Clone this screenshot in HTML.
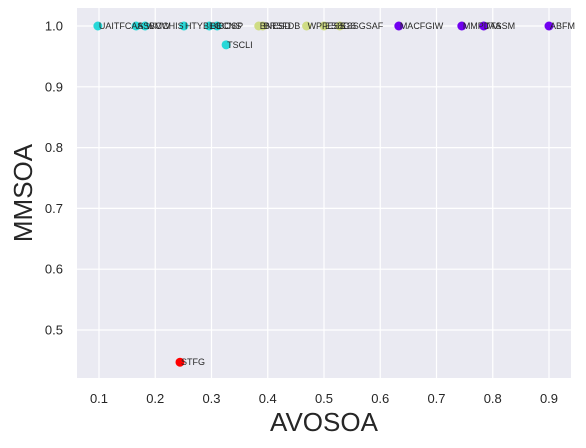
<!DOCTYPE html>
<html><head><meta charset="utf-8"><style>
body{margin:0;background:#fff;font-family:"Liberation Sans","DejaVu Sans",sans-serif}
svg{display:block}
</style></head><body>
<svg id="chart" width="586" height="448"></svg>
<script>
const labels=["UAITFCAS","ASBCW","WMCHIS","HTYBEC","BECNS","BOSP","TSCLI","BNESD","BRSFDB","WPFESS","ESSGS","ESSGSAF","MACFGIW","MMPDTA","TASSM","ABFM","STFG"];
const xVals=[0.098,0.166,0.182,0.251,0.296,0.310,0.326,0.384,0.391,0.469,0.500,0.528,0.633,0.745,0.784,0.900,0.244];
const yVals=[1,1,1,1,1,1,0.969,1,1,1,1,1,1,1,1,1,0.447];
const groups=[0,0,0,0,0,0,0,1,1,1,1,1,2,2,2,2,3];
const xTicks=[0.1,0.2,0.3,0.4,0.5,0.6,0.7,0.8,0.9];
const yTicks=[0.5,0.6,0.7,0.8,0.9,1.0];
const colors=["#27d8d8","#cfdc84","#7000f0","#ff0000"];
const L=77,R=571,T=8,B=378;
const sx=v=>99+(v-0.1)*562.5;
const sy=v=>26+(1-v)*608;
const svg=document.getElementById('chart');
const NS="http://www.w3.org/2000/svg";
function mk(t,a){const e=document.createElementNS(NS,t);for(const k in a)e.setAttribute(k,a[k]);svg.appendChild(e);return e;}
const bg=mk('rect',{x:L,y:T,width:R-L,height:B-T,fill:'#eaeaf2'});


xTicks.forEach(t=>{
 const l=mk('line',{x1:sx(t),x2:sx(t),y1:T,y2:B,stroke:'#fff','stroke-width':1.2});
 
 
 const tx=mk('text',{x:sx(t),y:B+25,'text-anchor':'middle','font-size':13,fill:'#262626'});
 tx.textContent=t.toFixed(1);
 
 
});
yTicks.forEach(t=>{
 const l=mk('line',{x1:L,x2:R,y1:sy(t),y2:sy(t),stroke:'#fff','stroke-width':1.2});
 
 
 const tx=mk('text',{x:L-14,y:sy(t)+4.5,'text-anchor':'end','font-size':13,fill:'#262626'});
 tx.textContent=t.toFixed(1);
 
 
});
xVals.forEach((v,i)=>{
 const c=mk('circle',{cx:sx(v),cy:sy(yVals[i]),r:4.5,fill:colors[groups[i]]});
 
 
});
xVals.forEach((v,i)=>{
 const t=mk('text',{x:sx(v)+1,y:sy(yVals[i])+3,'font-size':9,fill:'#262626'});
 t.textContent=labels[i];
 
 
});
const xt=mk('text',{x:(L+R)/2,y:431,'text-anchor':'middle','font-size':26,fill:'#262626'});
xt.textContent='AVOSOA';


const yt=mk('text',{x:0,y:0,'text-anchor':'middle','font-size':26,fill:'#262626',transform:`translate(32,${(T+B)/2}) rotate(-90)`});
yt.textContent='MMSOA';


</script>
</body></html>
